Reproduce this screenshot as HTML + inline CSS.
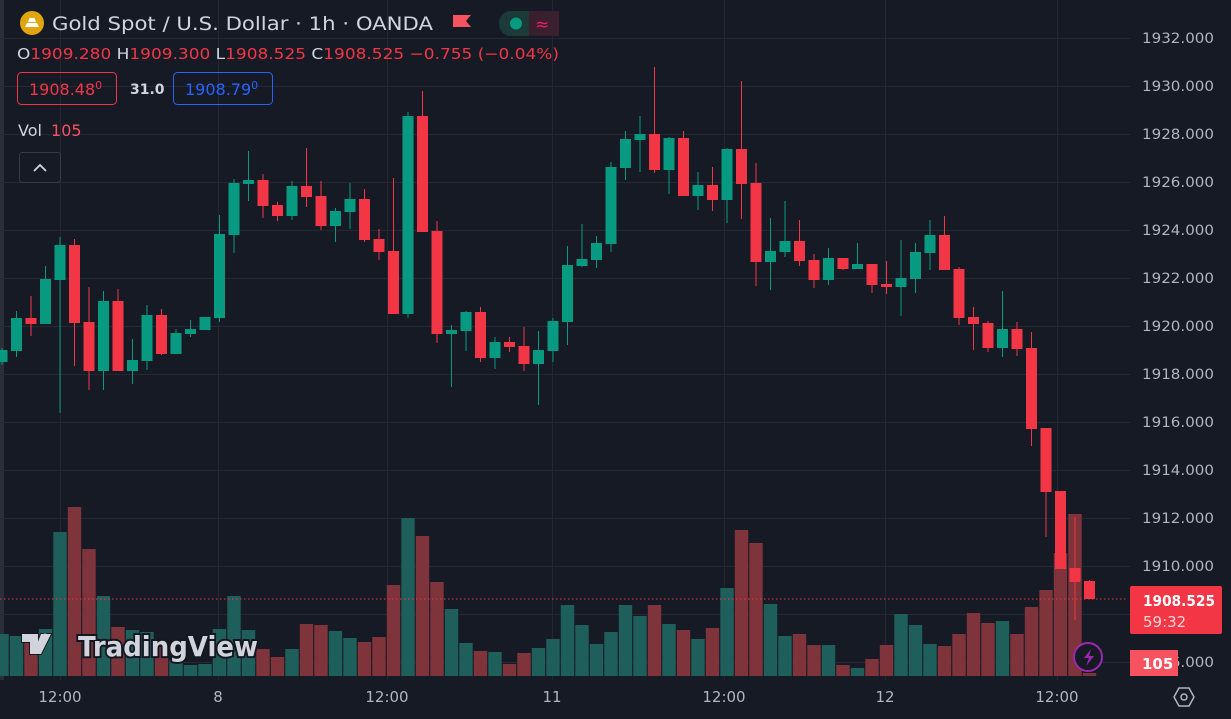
<!DOCTYPE html>
<html><head><meta charset="utf-8"><style>
html,body{margin:0;padding:0;background:#161a25;}
body{width:1231px;height:719px;overflow:hidden;position:relative;font-family:"DejaVu Sans","Liberation Sans",sans-serif;}
svg{position:absolute;left:0;top:0;}
</style></head><body>
<svg id="s" width="1231" height="719" xmlns="http://www.w3.org/2000/svg">
<rect x="0" y="0" width="1231" height="719" fill="#161a25"/>
<rect x="0" y="0" width="4" height="680" fill="#2a2e39"/>
<g id="grid" stroke="#242834" stroke-width="1"></g>
<g id="vol"></g>
<g id="c"></g>
<line x1="0" y1="599" x2="1128" y2="599" stroke="#f23645" stroke-width="1" stroke-dasharray="1.5 2.5"/>
<g font-size="19" fill="#d1d4dc">
<circle cx="32" cy="23" r="12" fill="#e0a60d"/>
<path d="M25 27 h14 l-2 -4 h-10 z M28 22 h8 l-1.5 -4 h-5 z" fill="#fff"/>
<text x="52" y="30" textLength="381" lengthAdjust="spacingAndGlyphs">Gold Spot / U.S. Dollar · 1h · OANDA</text>
</g>
<path d="M453 15 h18 l-5 6 l5 6 h-18 z" fill="#f7525f"/>
<rect x="499" y="11" width="60" height="25" rx="12" fill="#1c3a37"/>
<rect x="529" y="11" width="30" height="25" fill="#3a1f2e"/>
<rect x="545" y="11" width="14" height="25" rx="12" fill="#3a1f2e"/>
<circle cx="516" cy="23.5" r="6" fill="#089981"/>
<text x="535" y="30" font-size="17" fill="#e91e63">≈</text>
<text x="17" y="59" font-size="15.5" fill="#d1d4dc" textLength="542" lengthAdjust="spacingAndGlyphs">O<tspan fill="#f23645">1909.280</tspan> H<tspan fill="#f23645">1909.300</tspan> L<tspan fill="#f23645">1908.525</tspan> C<tspan fill="#f23645">1908.525</tspan> <tspan fill="#f23645">−0.755 (−0.04%)</tspan></text>
<rect x="17.5" y="72.5" width="99" height="32" rx="4" fill="none" stroke="#f23645"/>
<text x="29" y="95" font-size="16" fill="#f23645">1908.48<tspan font-size="11" dy="-6">0</tspan></text>
<text x="130" y="94" font-size="14" font-weight="bold" fill="#d1d4dc">31.0</text>
<rect x="173.5" y="72.5" width="99" height="32" rx="4" fill="none" stroke="#2962ff"/>
<text x="185" y="95" font-size="16" fill="#2962ff">1908.79<tspan font-size="11" dy="-6">0</tspan></text>
<text x="18" y="136" font-size="16" fill="#d1d4dc">Vol <tspan fill="#f7525f" dx="4">105</tspan></text>
<rect x="19.5" y="152.5" width="41" height="30" rx="3" fill="#161a25" stroke="#363a45"/>
<path d="M34 171 l6 -6 l6 6" fill="none" stroke="#d1d4dc" stroke-width="1.8"/>
<g font-size="28" font-weight="bold" fill="#d1d4dc" stroke="#131722" stroke-width="4" paint-order="stroke">
<path d="M22 634 h16 v20 h-8 v-12 h-8 z M41 634 h10 l-10 20 h-8 z" fill="#d1d4dc" stroke="#131722" stroke-width="2"/>
<circle cx="45" cy="637" r="3.5" fill="#d1d4dc" stroke="none"/>
<text x="78" y="656" textLength="180" lengthAdjust="spacingAndGlyphs">TradingView</text>
</g>
<g id="axis" font-size="14" fill="#b2b5be"></g>
<rect x="1130" y="586" width="92" height="48" rx="2" fill="#f23645"/>
<text x="1143" y="606" font-size="15" font-weight="bold" fill="#fff" textLength="72" lengthAdjust="spacingAndGlyphs">1908.525</text>
<text x="1143" y="627" font-size="15" fill="#ffd5d8">59:32</text>
<rect x="1130" y="650" width="48" height="26" fill="#f7525f"/>
<text x="1142" y="669" font-size="15" font-weight="bold" fill="#fff">105</text>
<circle cx="1088" cy="657" r="14" fill="#161a25" stroke="#9c27b0" stroke-width="2"/>
<path d="M1091 649 l-7 9 h5 l-3 8 l8 -10 h-5 z" fill="#9c27b0"/>
<g font-size="15" fill="#b2b5be" text-anchor="middle">
<text x="60" y="702">12:00</text><text x="218" y="702">8</text><text x="387" y="702">12:00</text>
<text x="552" y="702">11</text><text x="724" y="702">12:00</text><text x="885" y="702">12</text><text x="1057" y="702">12:00</text>
</g>
<path d="M1174 697 l5 -9 h10 l5 9 l-5 9 h-10 z" fill="none" stroke="#b2b5be" stroke-width="1.5"/>
<circle cx="1184" cy="697" r="3" fill="none" stroke="#b2b5be" stroke-width="1.5"/>
</svg>
<script>
var NS="http://www.w3.org/2000/svg";
function el(p,t,a){var e=document.createElementNS(NS,t);for(var k in a)e.setAttribute(k,a[k]);p.appendChild(e);return e;}
var g=document.getElementById('grid');
for(var k=0;k<14;k++){var y=38+48*k+0.5;el(g,'line',{x1:0,y1:y,x2:1130,y2:y});}
[60,387,724,885,1057,218,552].forEach(function(x){el(g,'line',{x1:x+0.5,y1:0,x2:x+0.5,y2:680});});
var ax=document.getElementById('axis');
for(var k=0;k<13;k++){var y=38+48*k;var t=el(ax,'text',{x:1142,y:y+5,textLength:72,lengthAdjust:'spacingAndGlyphs'});t.textContent=(1932-2*k)+'.000';}
var t2=el(ax,'text',{x:1142,y:667,textLength:72,lengthAdjust:'spacingAndGlyphs'});t2.textContent='1906.000';
var C=[
[-1,'g',350,362,348,365],[0,'g',318,351,311,357],[1,'r',318,324,296,336],[2,'g',279,324,266,324],[3,'g',245,280,237,413],
[4,'r',245,323,239,366],[5,'r',322,371,287,390],[6,'g',301,371,291,390],[7,'r',301,371,289,371],[8,'g',360,371,339,384],
[9,'g',315,361,305,370],[10,'r',315,354,309,355],[11,'g',333,354,329,354],[12,'g',329,334,320,337],[13,'g',317,330,317,330],
[14,'g',234,318,215,322],[15,'g',183,235,179,253],[16,'g',180,184,151,201],[17,'r',180,206,174,218],[18,'r',205,216,202,221],
[19,'g',186,216,181,220],[20,'r',186,197,148,207],[21,'r',196,226,181,230],[22,'g',211,226,208,242],[23,'g',199,212,183,229],
[24,'r',199,240,189,242],[25,'r',239,252,229,260],[26,'r',251,314,178,314],[27,'g',116,314,112,318],[28,'r',116,232,91,232],
[29,'r',231,334,221,343],[30,'g',330,334,325,387],[31,'g',312,331,311,351],[32,'r',312,358,307,362],[33,'g',342,358,337,369],
[34,'r',342,347,337,352],[35,'r',346,364,327,371],[36,'g',350,364,331,405],[37,'g',321,351,318,362],[38,'g',265,322,246,345],
[39,'g',259,266,224,267],[40,'g',243,260,236,268],[41,'g',167,244,162,252],[42,'g',139,168,131,180],[43,'g',134,140,116,172],
[44,'r',134,170,67,173],[45,'g',138,170,137,194],[46,'r',138,196,131,196],[47,'g',185,196,172,210],[48,'r',185,200,167,211],
[49,'g',149,200,148,223],[50,'r',149,184,81,219],[51,'r',183,262,163,286],[52,'g',251,262,218,290],[53,'g',241,252,201,257],
[54,'r',241,261,220,266],[55,'r',260,280,254,288],[56,'g',258,280,248,285],[57,'r',258,269,258,270],[58,'g',264,269,243,269],
[59,'r',264,285,264,293],[60,'r',284,287,261,294],[61,'g',278,287,240,316],[62,'g',252,279,243,293],[63,'g',235,253,220,270],
[64,'r',235,270,216,270],[65,'r',269,318,267,325],[66,'r',317,324,307,350],[67,'r',323,348,321,352],[68,'g',329,348,291,357],
[69,'r',329,349,322,356],[70,'r',348,429,332,446],[71,'r',428,492,428,537],[72,'r',491,569,491,569],[73,'r',568,582,517,620],
[74,'r',581,599,580,599]];
var V=[634,636,640,629,532,507,549,596,627,630,632,647,660,665,664,629,596,630,649,657,649,624,625,631,638,642,637,585,518,536,582,609,643,651,652,664,653,648,639,605,625,644,632,605,616,605,624,630,639,628,588,530,543,604,636,634,645,645,665,668,659,645,614,625,644,646,634,613,623,621,634,607,590,553,514,673];
var vg=document.getElementById('vol'),cg=document.getElementById('c');
C.forEach(function(d,j){
 var i=d[0],x=16.5+14.5*i,col=d[1]=='g'?'#089981':'#f23645',vc=d[1]=='g'?'#1f5f5b':'#7f343b';
 var vt=V[j];el(vg,'rect',{x:x-6.7,y:vt,width:13.4,height:676-vt,fill:vc});
 el(cg,'rect',{x:x-0.5,y:d[4],width:1,height:d[5]-d[4],fill:col});
 el(cg,'rect',{x:x-5.5,y:d[2],width:11,height:Math.max(2,d[3]-d[2]),fill:col});
});
</script>
</body></html>
